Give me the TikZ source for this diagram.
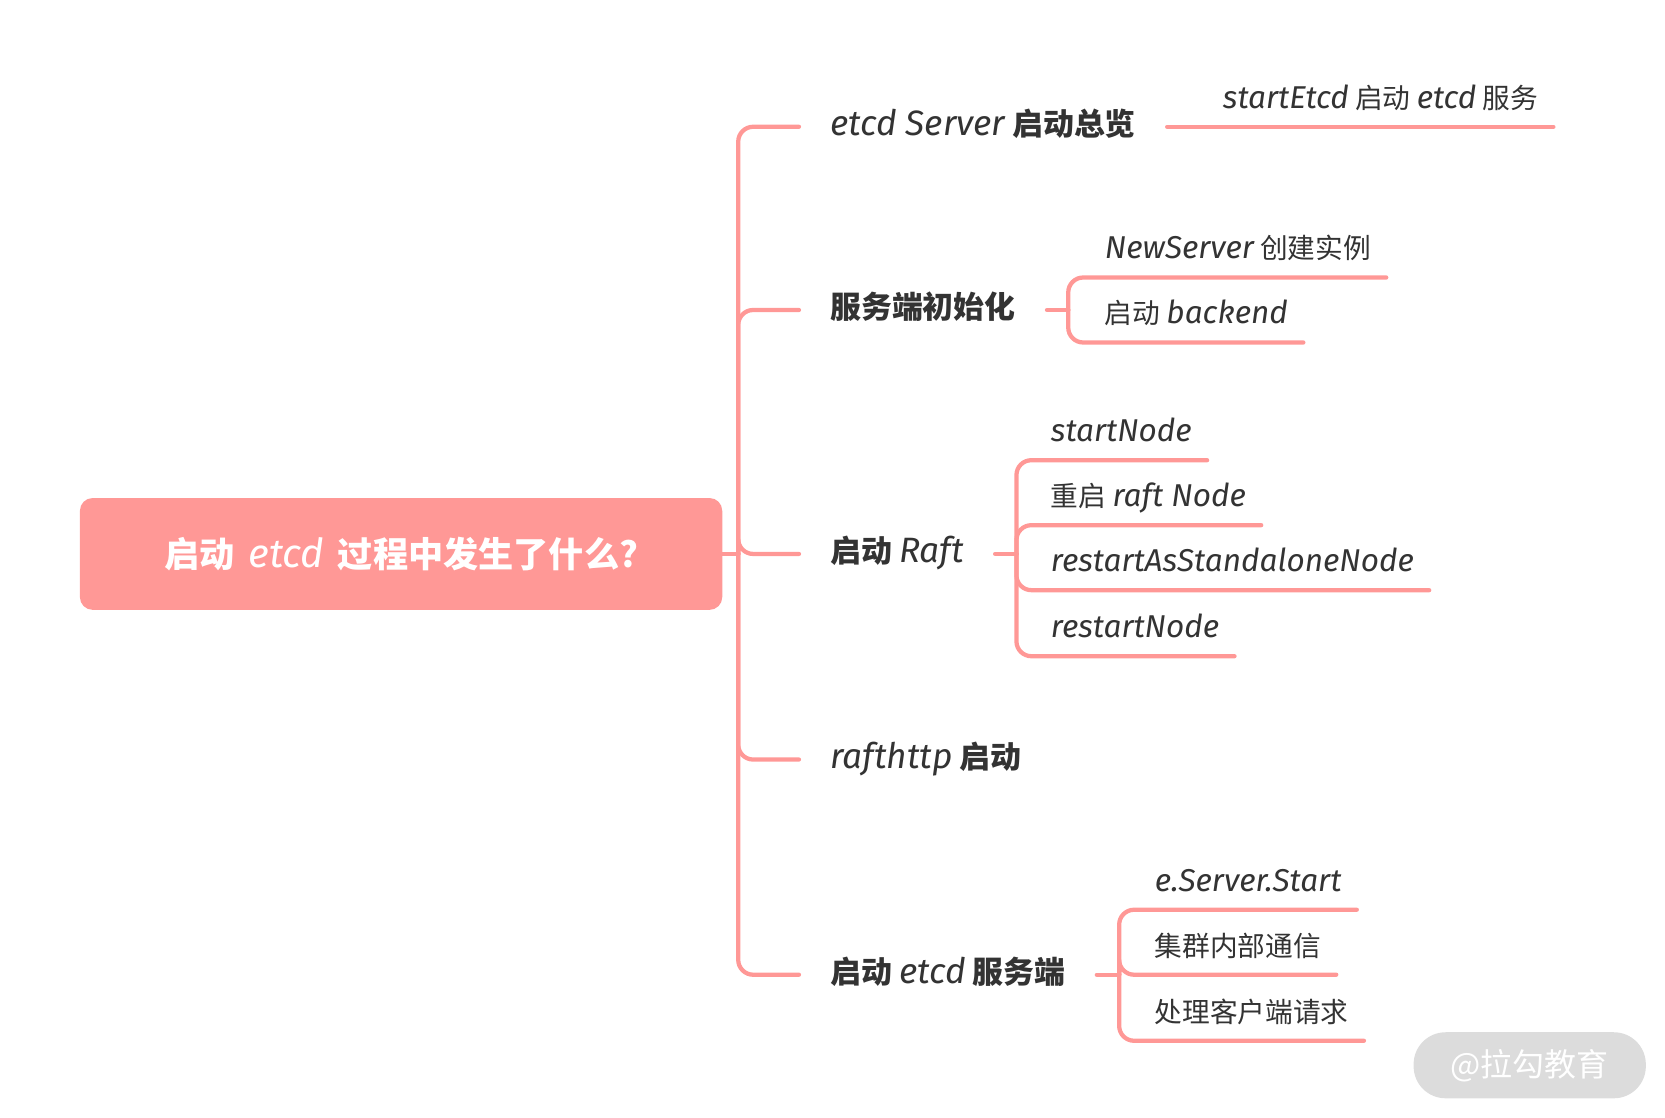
\documentclass[tikz,border=0pt]{standalone}
\usepackage{fontspec}
\setmainfont{Noto Sans CJK SC}
\newfontfamily\handfont{Fira Sans}[Scale=1.14]
\newcommand{\en}[1]{{\handfont\mdseries\itshape #1}}
\definecolor{mappink}{HTML}{FF9896}
\definecolor{maptext}{HTML}{333333}
\definecolor{markgray}{HTML}{DCDCDC}

\tikzset{
  conn/.style={draw=mappink, line width=2pt, rounded corners=7pt, line cap=round},
  rootbox/.style={fill=mappink, rounded corners=6pt, minimum width=301.5pt, minimum height=52.5pt,
    text=white, font=\fontsize{16.5}{20}\selectfont\bfseries},
  branch/.style={anchor=west, inner xsep=14.5pt, inner ysep=0pt, text height=11pt, text depth=3pt,
    text=maptext, font=\fontsize{14.5}{18}\selectfont\bfseries},
  leaf/.style={anchor=south west, inner xsep=7pt, inner ysep=8.5pt, text depth=0pt,
    text=maptext, font=\fontsize{13}{16}\selectfont},
}

\begin{document}
\begin{tikzpicture}[x=0.5pt, y=-0.5pt]
        \useasboundingbox (0,0) rectangle (1563,1049);

        % root and main branches
        \node[rootbox] (root) at (376.5,520) {启动\, \en{etcd}\, 过程中发生了什么?};
        \node[branch] (overview) at (750,119) {\en{etcd Server} 启动总览};
        \node[branch] (init) at (750,291) {服务端初始化};
        \node[branch] (raft) at (750,520) {启动 \en{Raft}};
        \node[branch] (rafthttp) at (750,713) {\en{rafthttp} 启动};
        \node[branch] (serve) at (750,915) {启动 \en{etcd} 服务端};

        \coordinate (trunk) at (693,520);
        \draw[conn] (root.east) -- (trunk);
        \foreach \b in {overview,init,raft,rafthttp,serve}
            \draw[conn] (trunk) |- (\b.west);

        % etcd Server 启动总览
        \node[leaf] (startetcd) at ([xshift=19pt]overview.east) {\en{startEtcd} 启动 \en{etcd} 服务};
        \draw[conn] (overview.east) -- (startetcd.south east);

        % 服务端初始化
        \coordinate (initj) at ([xshift=10pt]init.east);
        \draw[conn] (init.east) -- (initj);
        \node[leaf] (newserver) at ([shift={(20,-30.5)}]initj) {\en{NewServer} 创建实例};
        \node[leaf] (backend) at ([shift={(20,30.5)}]initj) {启动 \en{backend}};
        \foreach \c in {newserver,backend}
            \draw[conn] (initj) |- (\c.south east);

        % 启动 Raft
        \coordinate (raftj) at ([xshift=10pt]raft.east);
        \draw[conn] (raft.east) -- (raftj);
        \node[leaf] (startnode) at ([shift={(18,-88)}]raftj) {\en{startNode}};
        \node[leaf] (restartraft) at ([shift={(18,-27)}]raftj) {重启 \en{raft Node}};
        \node[leaf] (standalone) at ([shift={(18,34)}]raftj) {\en{restartAsStandaloneNode}};
        \node[leaf] (restartnode) at ([shift={(18,96)}]raftj) {\en{restartNode}};
        \foreach \c in {startnode,restartraft,standalone,restartnode}
            \draw[conn] (raftj) |- (\c.south east);

        % 启动 etcd 服务端
        \coordinate (servej) at ([xshift=10.5pt]serve.east);
        \draw[conn] (serve.east) -- (servej);
        \node[leaf] (serverstart) at ([shift={(19,-61)}]servej) {\en{e.Server.Start}};
        \node[leaf] (peer) at (servej -| serverstart.west) {集群内部通信};
        \node[leaf] (client) at ([shift={(19,62)}]servej) {处理客户端请求};
        \foreach \c in {serverstart,peer,client}
            \draw[conn] (servej) |- (\c.south east);

        % watermark
        \node[fill=markgray, rounded corners=15pt, minimum width=109pt, minimum height=31pt,
            text=white, font=\fontsize{15}{18}\selectfont] (mark) at (1436,1000) {@拉勾教育};
\end{tikzpicture}
\end{document}
